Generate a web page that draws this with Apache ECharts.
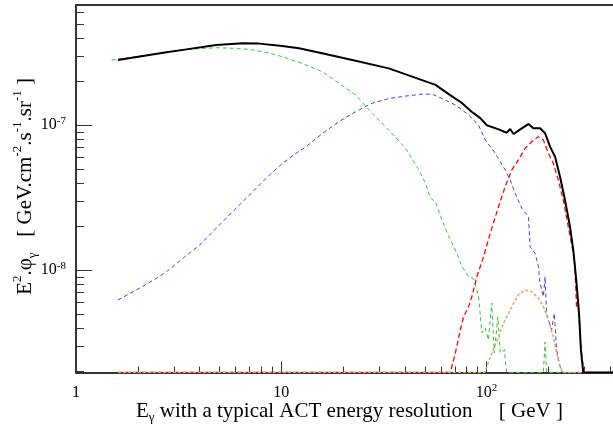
<!DOCTYPE html>
<html>
<head>
<meta charset="utf-8">
<script src="https://cdn.jsdelivr.net/npm/echarts@6/dist/echarts.min.js"></script>
<style>
  html, body { margin: 0; padding: 0; background: #fff; }
  #chart { width: 613px; height: 430px; }
</style>
</head>
<body>
<div id="chart"></div>
<script>
// axis ranges: E in GeV, E^2 phi in GeV cm-2 s-1 sr-1
const xRange = [1, 413];
const yRange = [1.97e-9, 6.76e-7];
const xMajor = [1, 10, 100];
const yMajor = [1e-8, 1e-7];

// total spectrum (black)
const eTotal = [1.60, 2.76, 3.45, 4.82, 6.49, 7.82, 10.1, 12.2, 15.8, 23.0, 33.4, 48.5, 56.4, 65.4, 75.6, 84.6, 93.2, 100.3, 114.4, 125.5, 130.3, 135.3, 148.4, 160, 169, 182.3, 192.8, 203.8, 215.6, 228, 241, 254.9, 264.5, 274.3, 282.8, 288.2, 295.8, 420];
const fTotal = [2.82e-7, 3.19e-7, 3.34e-7, 3.58e-7, 3.68e-7, 3.66e-7, 3.52e-7, 3.40e-7, 3.14e-7, 2.79e-7, 2.47e-7, 2.05e-7, 1.90e-7, 1.64e-7, 1.43e-7, 1.24e-7, 1.12e-7, 1.00e-7, 9.38e-8, 8.89e-8, 9.43e-8, 8.71e-8, 9.53e-8, 1.02e-7, 9.53e-8, 9.53e-8, 8.81e-8, 7.12e-8, 6.07e-8, 4.42e-8, 3.05e-8, 2.00e-8, 1.38e-8, 8.18e-9, 4.78e-9, 2.82e-9, 0, 0];

// green component
const eGreen = [1.49, 2.05, 2.76, 3.45, 4.82, 5.78, 6.99, 8.43, 10.15, 12.2, 13.2, 15.9, 19.1, 23.0, 27.7, 33.4, 40.3, 46.8, 50.4, 53.3, 56.4, 60.7, 65.4, 70.5, 75.9, 81.8, 86.5, 91.4, 94.9, 98.6, 102, 106, 109, 113.5, 116.6, 122.3, 125, 189, 192.8, 196, 420];
const fGreen = [2.82e-7, 3.01e-7, 3.19e-7, 3.34e-7, 3.43e-7, 3.40e-7, 3.34e-7, 3.19e-7, 2.97e-7, 2.72e-7, 2.61e-7, 2.34e-7, 1.95e-7, 1.62e-7, 1.21e-7, 9.28e-8, 6.94e-8, 4.92e-8, 3.98e-8, 3.14e-8, 2.97e-8, 2.22e-8, 1.71e-8, 1.38e-8, 1.06e-8, 9.03e-9, 8.71e-9, 6.65e-9, 3.70e-9, 4.00e-9, 3.30e-9, 5.95e-9, 2.69e-9, 4.76e-9, 2.69e-9, 2.82e-9, 0, 0, 3.20e-9, 0, 0];

// blue component
const eBlue = [1.60, 1.97, 2.47, 2.76, 3.32, 4.00, 4.82, 5.80, 6.99, 8.43, 10.15, 11.8, 13.2, 15.9, 19.1, 23.0, 27.7, 33.4, 40.3, 48.5, 54.3, 60.7, 70.5, 81.8, 91.4, 98.6, 110.2, 123.2, 130.3, 137.8, 148.4, 160, 163, 172.4, 178.8, 182.3, 189.1, 192.8, 196, 207.5, 213.8, 219.5, 228, 234, 420];
const fBlue = [6.24e-9, 7.31e-9, 8.81e-9, 9.78e-9, 1.21e-8, 1.49e-8, 1.95e-8, 2.54e-8, 3.30e-8, 4.31e-8, 5.47e-8, 6.41e-8, 7.12e-8, 8.81e-8, 1.06e-7, 1.24e-7, 1.42e-7, 1.53e-7, 1.59e-7, 1.64e-7, 1.64e-7, 1.53e-7, 1.38e-7, 1.18e-7, 1.00e-7, 7.92e-8, 6.41e-8, 4.92e-8, 4.20e-8, 3.40e-8, 2.68e-8, 2.34e-8, 1.45e-8, 1.31e-8, 1.06e-8, 8.13e-9, 6.58e-9, 9.03e-9, 5.05e-9, 3.88e-9, 5.05e-9, 2.82e-9, 2.16e-9, 0, 0];

// red component
const eRed = [1.60, 66.6, 70.5, 74.5, 77.3, 81.8, 84.8, 89.7, 96.7, 104.2, 114.4, 123.2, 132.7, 143, 154.2, 166, 178.8, 189.1, 200, 211.4, 223.6, 236.5, 250, 264.5, 269.5, 274.3, 279.6, 285, 290.1, 295.8, 300, 420];
const fRed = [0, 0, 2.68e-9, 3.88e-9, 4.78e-9, 5.61e-9, 6.58e-9, 9.03e-9, 1.24e-8, 1.80e-8, 2.75e-8, 3.77e-8, 4.92e-8, 5.77e-8, 6.94e-8, 7.71e-8, 8.34e-8, 7.92e-8, 6.41e-8, 5.47e-8, 4.20e-8, 3.05e-8, 2.00e-8, 1.31e-8, 1.06e-8, 5.61e-9, 6.24e-9, 3.68e-9, 2.68e-9, 2.16e-9, 0, 0];

// tan component
const eTan = [1.60, 97.8, 100.3, 106.1, 114.4, 120.9, 127.9, 135.3, 143, 154.2, 166, 178.8, 189.1, 200, 211.4, 219.5, 228, 234, 420];
const fTan = [0, 0, 2.16e-9, 2.68e-9, 3.48e-9, 4.31e-9, 5.05e-9, 5.92e-9, 6.76e-9, 7.31e-9, 7.12e-9, 6.41e-9, 5.61e-9, 4.54e-9, 3.48e-9, 2.68e-9, 2.16e-9, 0, 0];

const FONT = '"Liberation Serif", "DejaVu Serif", serif';
const log10 = Math.log10;

// empty bins sit on the bottom of the frame, like ROOT does on log scale
function toPoints(es, fs) {
  return es.map((e, i) => [log10(e), log10(Math.max(fs[i], yRange[0]))]);
}

function minorTicks(lo, hi) {
  const out = [];
  for (let p = Math.floor(log10(lo)); p <= Math.ceil(log10(hi)); p++) {
    for (let k = 2; k <= 9; k++) {
      const v = k * Math.pow(10, p);
      if (v >= lo && v <= hi) out.push(log10(v));
    }
  }
  return out;
}

const labelRich = {
  b: { fontFamily: FONT, fontSize: 16, color: '#000', lineHeight: 20 },
  s: { fontFamily: FONT, fontSize: 11, color: '#000', lineHeight: 11, verticalAlign: 'top' }
};

function powLabel(v) {
  const e = Math.round(v);
  if (e === 0) return '{b|1}';
  if (e === 1) return '{b|10}';
  return '{b|10}{s|' + e + '}';
}

const axisLineStyle = { color: '#333', width: 2 };
const xLo = log10(xRange[0]), xHi = log10(xRange[1]);
const yLo = log10(yRange[0]), yHi = log10(yRange[1]);

const myChart = echarts.init(document.getElementById('chart'));

const option = {
  animation: false,
  backgroundColor: '#fff',
  grid: { left: 76, top: 5, right: -2, bottom: 57.5 },
  xAxis: [
    {
      type: 'value', min: xLo, max: xHi, position: 'bottom',
      axisLine: { show: true, onZero: false, lineStyle: axisLineStyle },
      axisTick: { show: true, inside: true, length: 11, customValues: xMajor.map(log10), lineStyle: { color: '#333' } },
      axisLabel: { show: true, margin: 10, customValues: xMajor.map(log10), formatter: powLabel, rich: labelRich },
      splitLine: { show: false }
    },
    {
      type: 'value', min: xLo, max: xHi, position: 'bottom',
      axisLine: { show: false },
      axisTick: { show: true, inside: true, length: 6, customValues: minorTicks(xRange[0], xRange[1]), lineStyle: { color: '#333' } },
      axisLabel: { show: false },
      splitLine: { show: false }
    },
    {
      type: 'value', min: xLo, max: xHi, position: 'top',
      axisLine: { show: true, onZero: false, lineStyle: axisLineStyle },
      axisTick: { show: false }, axisLabel: { show: false }, splitLine: { show: false }
    }
  ],
  yAxis: [
    {
      type: 'value', min: yLo, max: yHi, position: 'left',
      axisLine: { show: true, onZero: false, lineStyle: axisLineStyle },
      axisTick: { show: true, inside: true, length: 16, customValues: yMajor.map(log10), lineStyle: { color: '#333' } },
      axisLabel: { show: true, margin: 10, customValues: yMajor.map(log10), formatter: powLabel, rich: labelRich },
      splitLine: { show: false }
    },
    {
      type: 'value', min: yLo, max: yHi, position: 'left',
      axisLine: { show: false },
      axisTick: { show: true, inside: true, length: 8, customValues: minorTicks(yRange[0], yRange[1]), lineStyle: { color: '#333' } },
      axisLabel: { show: false },
      splitLine: { show: false }
    }
  ],
  series: [
    {
      name: 'green', type: 'line', showSymbol: false, z: 3,
      data: toPoints(eGreen, fGreen),
      lineStyle: { color: '#33c433', width: 1, type: [4, 3] }
    },
    {
      name: 'blue', type: 'line', showSymbol: false, z: 3,
      data: toPoints(eBlue, fBlue),
      lineStyle: { color: '#4040e0', width: 1, type: [4, 3] }
    },
    {
      name: 'red', type: 'line', showSymbol: false, z: 4,
      data: toPoints(eRed, fRed),
      lineStyle: { color: '#ff0000', width: 1.3, type: [5, 3] }
    },
    {
      name: 'tan', type: 'line', showSymbol: false, z: 4,
      data: toPoints(eTan, fTan),
      lineStyle: { color: '#d8a66e', width: 1.5, type: [3, 2] }
    },
    {
      name: 'total', type: 'line', showSymbol: false, z: 5,
      data: toPoints(eTotal, fTotal),
      lineStyle: { color: '#000', width: 2 }
    }
  ],
  graphic: [
    {
      type: 'text', x: 563, y: 411,
      style: {
        text: '{t|E}{d|γ}{t| with a typical ACT energy resolution     [ GeV ]}',
        align: 'right', verticalAlign: 'middle',
        rich: {
          t: { fontFamily: FONT, fontSize: 21, color: '#000', lineHeight: 26 },
          d: { fontFamily: FONT, fontSize: 13, color: '#000', lineHeight: 13, verticalAlign: 'bottom' }
        }
      }
    },
    {
      type: 'text', x: 25, y: 78, rotation: Math.PI / 2,
      style: {
        text: '{t|E}{u|2}{t|.φ}{d|γ}{t|   [ GeV.cm}{u|-2}{t|.s}{u|-1}{t|.sr}{u|-1}{t| ]}',
        align: 'right', verticalAlign: 'middle',
        rich: {
          t: { fontFamily: FONT, fontSize: 21, color: '#000', lineHeight: 28 },
          u: { fontFamily: FONT, fontSize: 13, color: '#000', lineHeight: 13, verticalAlign: 'top' },
          d: { fontFamily: FONT, fontSize: 13, color: '#000', lineHeight: 13, verticalAlign: 'bottom' }
        }
      }
    }
  ]
};

myChart.setOption(option);
</script>
</body>
</html>
